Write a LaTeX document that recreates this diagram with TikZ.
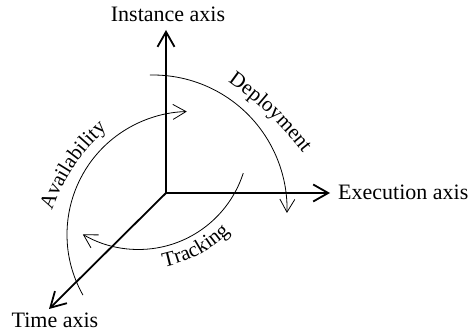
\documentclass[tikz,border=0pt]{standalone}
\usepackage{fontspec}
\setmainfont{Liberation Serif}
\usetikzlibrary{arrows.meta,calc,decorations.text}
\begin{document}
\begin{tikzpicture}[x=1pt,y=1pt,
  axis/.style={line width=1.8pt,-{Straight Barb[length=15pt,width=17pt,line width=1.8pt]}},
  flow/.style={line width=0.8pt,-{Straight Barb[length=13pt,width=15pt,line width=0.8pt]}},
  lbl/.style={font=\fontsize{22}{26}\selectfont, inner sep=0pt}]
\useasboundingbox (0,0) rectangle (472,333);
\coordinate (O) at (166,140);
\coordinate (inst) at (166,303);
\coordinate (exec) at (330,140);
\coordinate (time) at (49,24);
\draw[axis] (O) -- (inst);
\draw[axis] (O) -- (exec);
\draw[axis] (O) -- (time);
\node[lbl, anchor=base] (instlbl) at (168,312) {Instance axis};
\node[lbl, anchor=base west] (execlbl) at (338,134) {Execution axis};
\node[lbl, anchor=base] (timelbl) at (55,6) {Time axis};
% Deployment
\coordinate (dc) at (153,124);
\draw[flow] ($(dc)+(91.3:134)$) arc[start angle=91.3,end angle=-1.7,radius=134];
\coordinate (d1) at (228,251);
\coordinate (d2) at (303,180);
\path[decorate, decoration={text along path, text align=center,
  text={|\fontsize{21}{21}\selectfont|Deployment}}]
  (d1) to[bend left=8] (d2);
% Availability
\coordinate (ac) at (190,98.5);
\draw[flow] ($(ac)+(209.5:123)$) arc[start angle=209.5,end angle=91.5,radius=123];
\coordinate (a1) at (50,117);
\coordinate (a2) at (111,208);
\path[decorate, decoration={text along path, text align=center,
  text={|\fontsize{21}{21}\selectfont|Availability}}]
  (a1) to[bend left=14] (a2);
% Tracking
\coordinate (tc) at (138.5,193.5);
\draw[flow] ($(tc)+(-17.8:110)$) arc[start angle=-17.8,end angle=-120.4,radius=110];
\path[decorate, decoration={text along path, text align=center,
  text={|\fontsize{21}{21}\selectfont|Tracking}}]
  ($(tc)+(-92:130)$) arc[start angle=-92,end angle=-32,radius=130];
\end{tikzpicture}
\end{document}
